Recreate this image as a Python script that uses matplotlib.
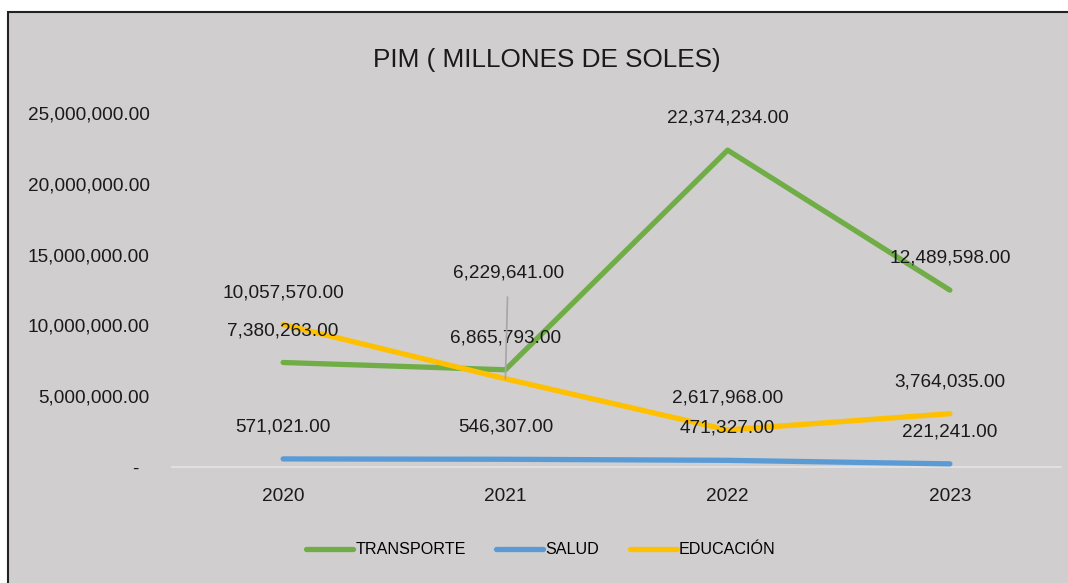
import matplotlib.pyplot as plt
from matplotlib.patches import Rectangle
from matplotlib.ticker import FuncFormatter

plt.rcParams['font.family'] = ['Liberation Sans', 'DejaVu Sans']

years = ['2020', '2021', '2022', '2023']
transporte = [7380263.00, 6865793.00, 22374234.00, 12489598.00]
salud = [571021.00, 546307.00, 471327.00, 221241.00]
educacion = [10057570.00, 6229641.00, 2617968.00, 3764035.00]

series = [
    ('TRANSPORTE', transporte, '#70ad47'),
    ('SALUD', salud, '#5b9bd5'),
    ('EDUCACIÓN', educacion, '#ffc000'),
]

bg = '#d0cecf'
fs = 13.7
fig = plt.figure(figsize=(10.68, 5.83), dpi=100)
fig.patch.set_facecolor('white')

# chart area box (gray, dark border shows only on left/top)
fig.patches.append(Rectangle((8 / 1068, -0.1), 1.2, 1.1 - 12 / 583, transform=fig.transFigure,
                             facecolor=bg, edgecolor='#222222', linewidth=1.5, zorder=-10))

ax = fig.add_axes([172 / 1068, 1 - 467 / 583, (1061 - 172) / 1068, (467 - 113) / 583])
ax.patch.set_visible(False)

x = range(len(years))
for name, vals, col in series:
    ax.plot(x, vals, color=col, linewidth=3.8, solid_capstyle='round', label=name, zorder=3)

ax.set_xlim(-0.5, 3.5)
ax.set_ylim(0, 25000000)
ax.set_yticks([0, 5000000, 10000000, 15000000, 20000000, 25000000])
ax.yaxis.set_major_formatter(FuncFormatter(lambda v, p: '-  ' if v == 0 else f'{v:,.2f}'))
ax.set_xticks(list(x))
ax.set_xticklabels(years)
ax.tick_params(axis='both', length=0, labelsize=fs, colors='#1a1a1a')
ax.tick_params(axis='y', pad=16)
ax.tick_params(axis='x', pad=15)
for s in ['top', 'right', 'left']:
    ax.spines[s].set_visible(False)
ax.spines['bottom'].set_color('#e4e4e4')
ax.spines['bottom'].set_linewidth(1.2)

# data labels
for name, vals, col in series:
    for i, v in enumerate(vals):
        if name == 'EDUCACIÓN' and i == 1:
            ax.annotate(f'{v:,.2f}', xy=(i, v), xytext=(2, 76), textcoords='offset points',
                        ha='center', va='center', fontsize=fs, color='#1a1a1a', zorder=5,
                        arrowprops=dict(arrowstyle='-', color='#a6a6a6', lw=1.2,
                                        shrinkA=9, shrinkB=0))
        else:
            ax.annotate(f'{v:,.2f}', xy=(i, v), xytext=(0, 23), textcoords='offset points',
                        ha='center', va='center', fontsize=fs, color='#1a1a1a', zorder=5)

fig.text(547 / 1068, 1 - 60 / 583, 'PIM ( MILLONES DE SOLES)', ha='center', va='center',
         fontsize=18.8, color='#1a1a1a')

fig.legend(loc='center', bbox_to_anchor=(541 / 1068, 1 - 550 / 583), ncol=3, frameon=False,
           fontsize=11.6, handlelength=2.9, handletextpad=0.15, columnspacing=1.9)

fig.savefig('out.png', dpi=100, facecolor='white')
